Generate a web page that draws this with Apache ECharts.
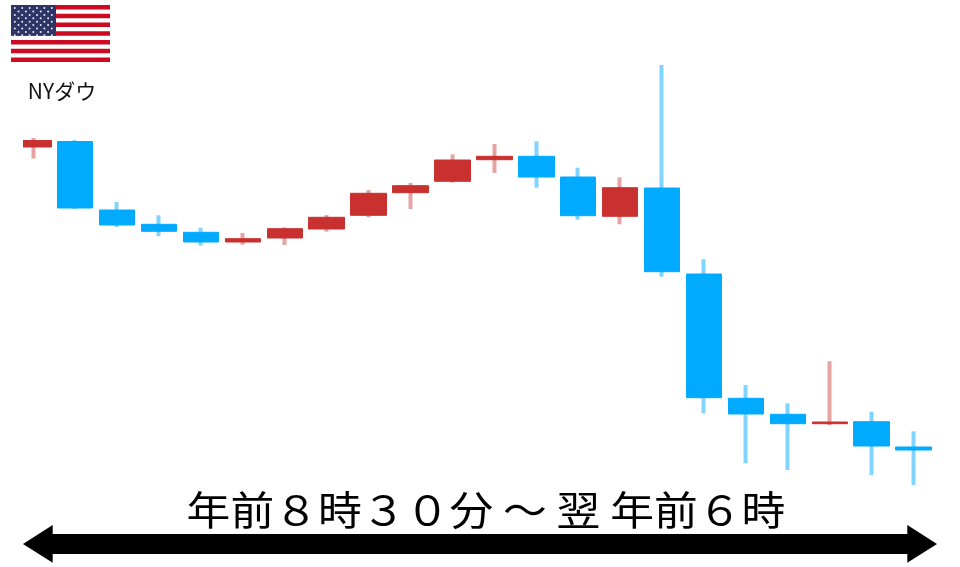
<!DOCTYPE html>
<html>
<head>
<meta charset="utf-8">
<title>NYダウ</title>
<script src="https://cdn.jsdelivr.net/npm/echarts@6/dist/echarts.min.js"></script>
<style>
html, body { margin: 0; padding: 0; background: #fff; }
#main { width: 960px; height: 567px; }
</style>
</head>
<body>
<div id="main"></div>
<script>
// values, on an arbitrary price scale (no ticks in the reference)
var slots  = [0, 1, 2, 3, 4, 5, 6, 7, 8, 9, 10, 11, 12, 13, 14, 15, 16, 17, 18, 19, 20, 21];
var opens  = [420, 425.5, 357, 342.7, 334.7, 325, 329, 338, 351.7, 374.3, 385.7, 407.3, 410.7, 390, 350.7, 379, 293, 168.7, 152.7, 143.3, 145.3, 120];
var closes = [426.5, 359, 342, 335.7, 325, 328.3, 338.3, 349.7, 373.7, 381.3, 407, 410.7, 390, 351.3, 379.3, 295.3, 169.3, 153, 143.3, 145, 121, 117];
var lows   = [408.5, 358, 340, 331, 321.3, 322.3, 322, 335.3, 349.7, 358, 384.3, 394, 379.3, 347.3, 342.7, 290.3, 153.7, 103.7, 97, 142, 92, 82];
var highs  = [429, 427, 365, 351.7, 339.3, 334, 339.7, 352, 377, 384, 412.7, 423, 425.7, 399.3, 389.7, 502, 307.7, 182, 163.7, 205.7, 155.3, 135.7];

var pageTitle = '年前８時３０分 ～ 翌 年前６時';
var indexName = 'NYダウ';

var RED = '#C8312F', RED_WICK = '#E5A3A1';
var BLUE = '#00AAFF', BLUE_WICK = '#80D4FF';

var wickData = slots.map(function (s, i) {
    return [s, opens[i], closes[i], lows[i], highs[i]];
});
// bodies go on top, so their wicks are flattened to the box
var bodyData = slots.map(function (s, i) {
    return [s, opens[i], closes[i], Math.min(opens[i], closes[i]), Math.max(opens[i], closes[i])];
});

// flag
var flag = [];
var flagX = 11, flagY = 5, flagW = 99, flagH = 57;
var stripeH = flagH / 13;
flag.push({ type: 'rect', shape: { x: flagX, y: flagY, width: flagW, height: flagH }, style: { fill: '#fff' } });
for (var r = 0; r < 13; r += 2) {
    flag.push({ type: 'rect', shape: { x: flagX, y: flagY + r * stripeH, width: flagW, height: stripeH }, style: { fill: '#CC0A22' } });
}
flag.push({ type: 'rect', shape: { x: flagX, y: flagY, width: 45, height: stripeH * 7 }, style: { fill: '#2C3565' } });
for (var row = 0; row < 9; row++) {
    var n = row % 2 ? 5 : 6;
    for (var col = 0; col < n; col++) {
        flag.push({
            type: 'circle',
            shape: { cx: flagX + 3.8 + (row % 2 ? 3.7 : 0) + col * 7.4, cy: flagY + 3.1 + row * 3.4, r: 1 },
            style: { fill: '#E8EAF2' }
        });
    }
}

// double arrow under the chart
var arrow = {
    type: 'polygon',
    shape: {
        points: [[23, 544], [52.7, 525], [52.7, 534], [907.3, 534], [907.3, 525], [937, 544],
                 [907.3, 562.7], [907.3, 554], [52.7, 554], [52.7, 562.7]]
    },
    style: { fill: '#000' }
};

// first candle is cut off at the left edge in the reference
var leftEdge = {
    type: 'rect',
    z: 10,
    shape: { x: 0, y: 120, width: 23, height: 60 },
    style: { fill: '#fff' }
};

var myChart = echarts.init(document.getElementById('main'));

var option = {
    animation: false,
    backgroundColor: '#fff',
    grid: { left: 23, right: 20, top: 0, bottom: 0 },
    xAxis: {
        type: 'value',
        min: -0.2457,
        max: 21.63,
        show: false
    },
    yAxis: {
        type: 'value',
        min: 0,
        max: 567,
        show: false
    },
    series: [
        {
            type: 'candlestick',
            barWidth: 1,
            encode: { x: 0, y: [1, 2, 3, 4] },
            itemStyle: { color: RED_WICK, color0: BLUE_WICK, borderColor: RED_WICK, borderColor0: BLUE_WICK, borderWidth: 4 },
            data: wickData
        },
        {
            type: 'candlestick',
            barWidth: 36,
            encode: { x: 0, y: [1, 2, 3, 4] },
            itemStyle: { color: RED, color0: BLUE, borderColor: RED, borderColor0: BLUE, borderWidth: 1 },
            data: bodyData
        }
    ],
    graphic: flag.concat([
        arrow,
        leftEdge,
        {
            type: 'text',
            x: 62, y: 91,
            style: { text: indexName, fill: '#111', font: '21px "Noto Sans CJK JP"', align: 'center', verticalAlign: 'middle' }
        },
        {
            type: 'text',
            x: 486, y: 510,
            scaleX: 1.095,
            style: { text: pageTitle, fill: '#000', font: '40px "Noto Sans CJK JP"', align: 'center', verticalAlign: 'middle' }
        }
    ])
};

myChart.setOption(option);
</script>
</body>
</html>
